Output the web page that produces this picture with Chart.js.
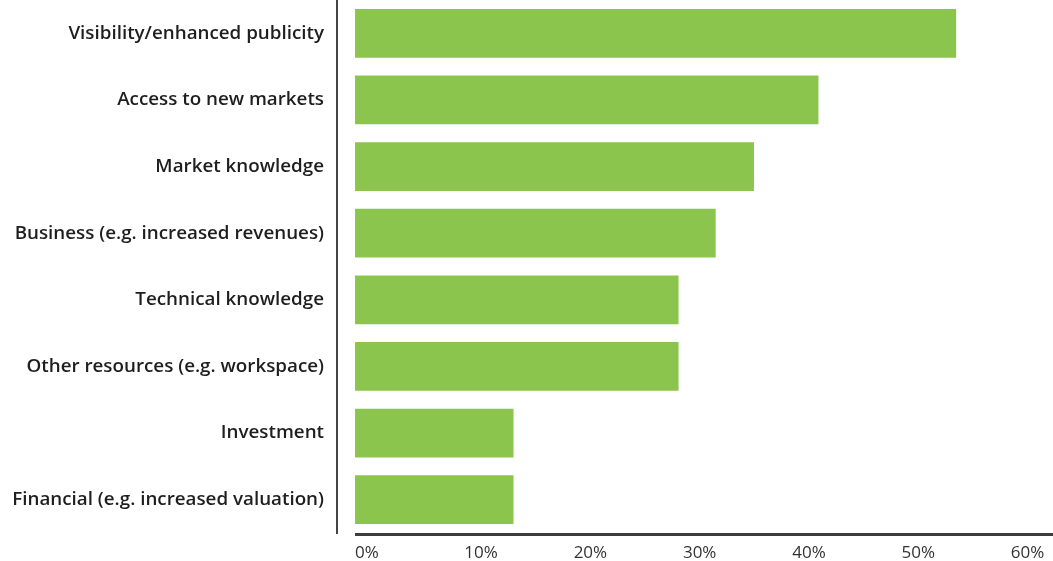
<!DOCTYPE html>
<html>
<head>
<meta charset="utf-8">
<script src="https://cdn.jsdelivr.net/npm/chart.js@4"></script>
<style>
  html, body { margin: 0; padding: 0; background: #fff; }
  #wrap { width: 1053px; height: 561px; }
</style>
</head>
<body>
<div id="wrap"><canvas id="barChart"></canvas></div>
<script>
const categories = [
    "Visibility/enhanced publicity",
    "Access to new markets",
    "Market knowledge",
    "Business (e.g. increased revenues)",
    "Technical knowledge",
    "Other resources (e.g. workspace)",
    "Investment",
    "Financial (e.g. increased valuation)"
];
const values = [55, 42.4, 36.5, 33, 29.6, 29.6, 14.5, 14.5];
const tickValues = [0, 10, 20, 30, 40, 50, 60];

// baseline under the bars, starting at 0 (not at the y axis)
const baseLine = {
    id: "baseLine",
    afterDraw(chart) {
        const x = chart.scales.x;
        const area = chart.chartArea;
        const ctx = chart.ctx;
        ctx.save();
        ctx.strokeStyle = "#3d3d3d";
        ctx.lineWidth = 3;
        ctx.beginPath();
        ctx.moveTo(x.getPixelForValue(0), area.bottom + 1.5);
        ctx.lineTo(area.right, area.bottom + 1.5);
        ctx.stroke();
        ctx.restore();
    }
};

new Chart(document.getElementById("barChart"), {
    type: "bar",
    data: {
        labels: categories,
        datasets: [{
            data: values,
            backgroundColor: "#8cc54e",
            categoryPercentage: 0.73,
            barPercentage: 1
        }]
    },
    options: {
        indexAxis: "y",
        responsive: true,
        maintainAspectRatio: false,
        animation: false,
        layout: { padding: { top: -4, right: 0, left: 0, bottom: 0 } },
        plugins: {
            legend: { display: false },
            tooltip: { enabled: false }
        },
        scales: {
            x: {
                min: -1.65,
                max: 63.86,
                grid: { display: false, drawTicks: false },
                border: { display: false },
                afterBuildTicks(scale) {
                    scale.ticks = tickValues.map(v => ({ value: v }));
                },
                afterFit(scale) {
                    scale.height = 28;
                    scale.paddingLeft = 0;
                    scale.paddingRight = 0;
                },
                ticks: {
                    align: "start",
                    padding: 10,
                    color: "#333",
                    font: { family: "Open Sans", size: 17 },
                    callback: v => v + "%"
                }
            },
            y: {
                grid: { display: false, drawTicks: false },
                border: { display: true, color: "#444", width: 2 },
                afterFit(scale) {
                    scale.width = 337;
                    scale.paddingTop = 0;
                    scale.paddingBottom = 0;
                },
                ticks: {
                    padding: 13,
                    color: "#1e1e1e",
                    font: { family: "Open Sans", size: 18.8, weight: "600" }
                }
            }
        }
    },
    plugins: [baseLine]
});
</script>
</body>
</html>
